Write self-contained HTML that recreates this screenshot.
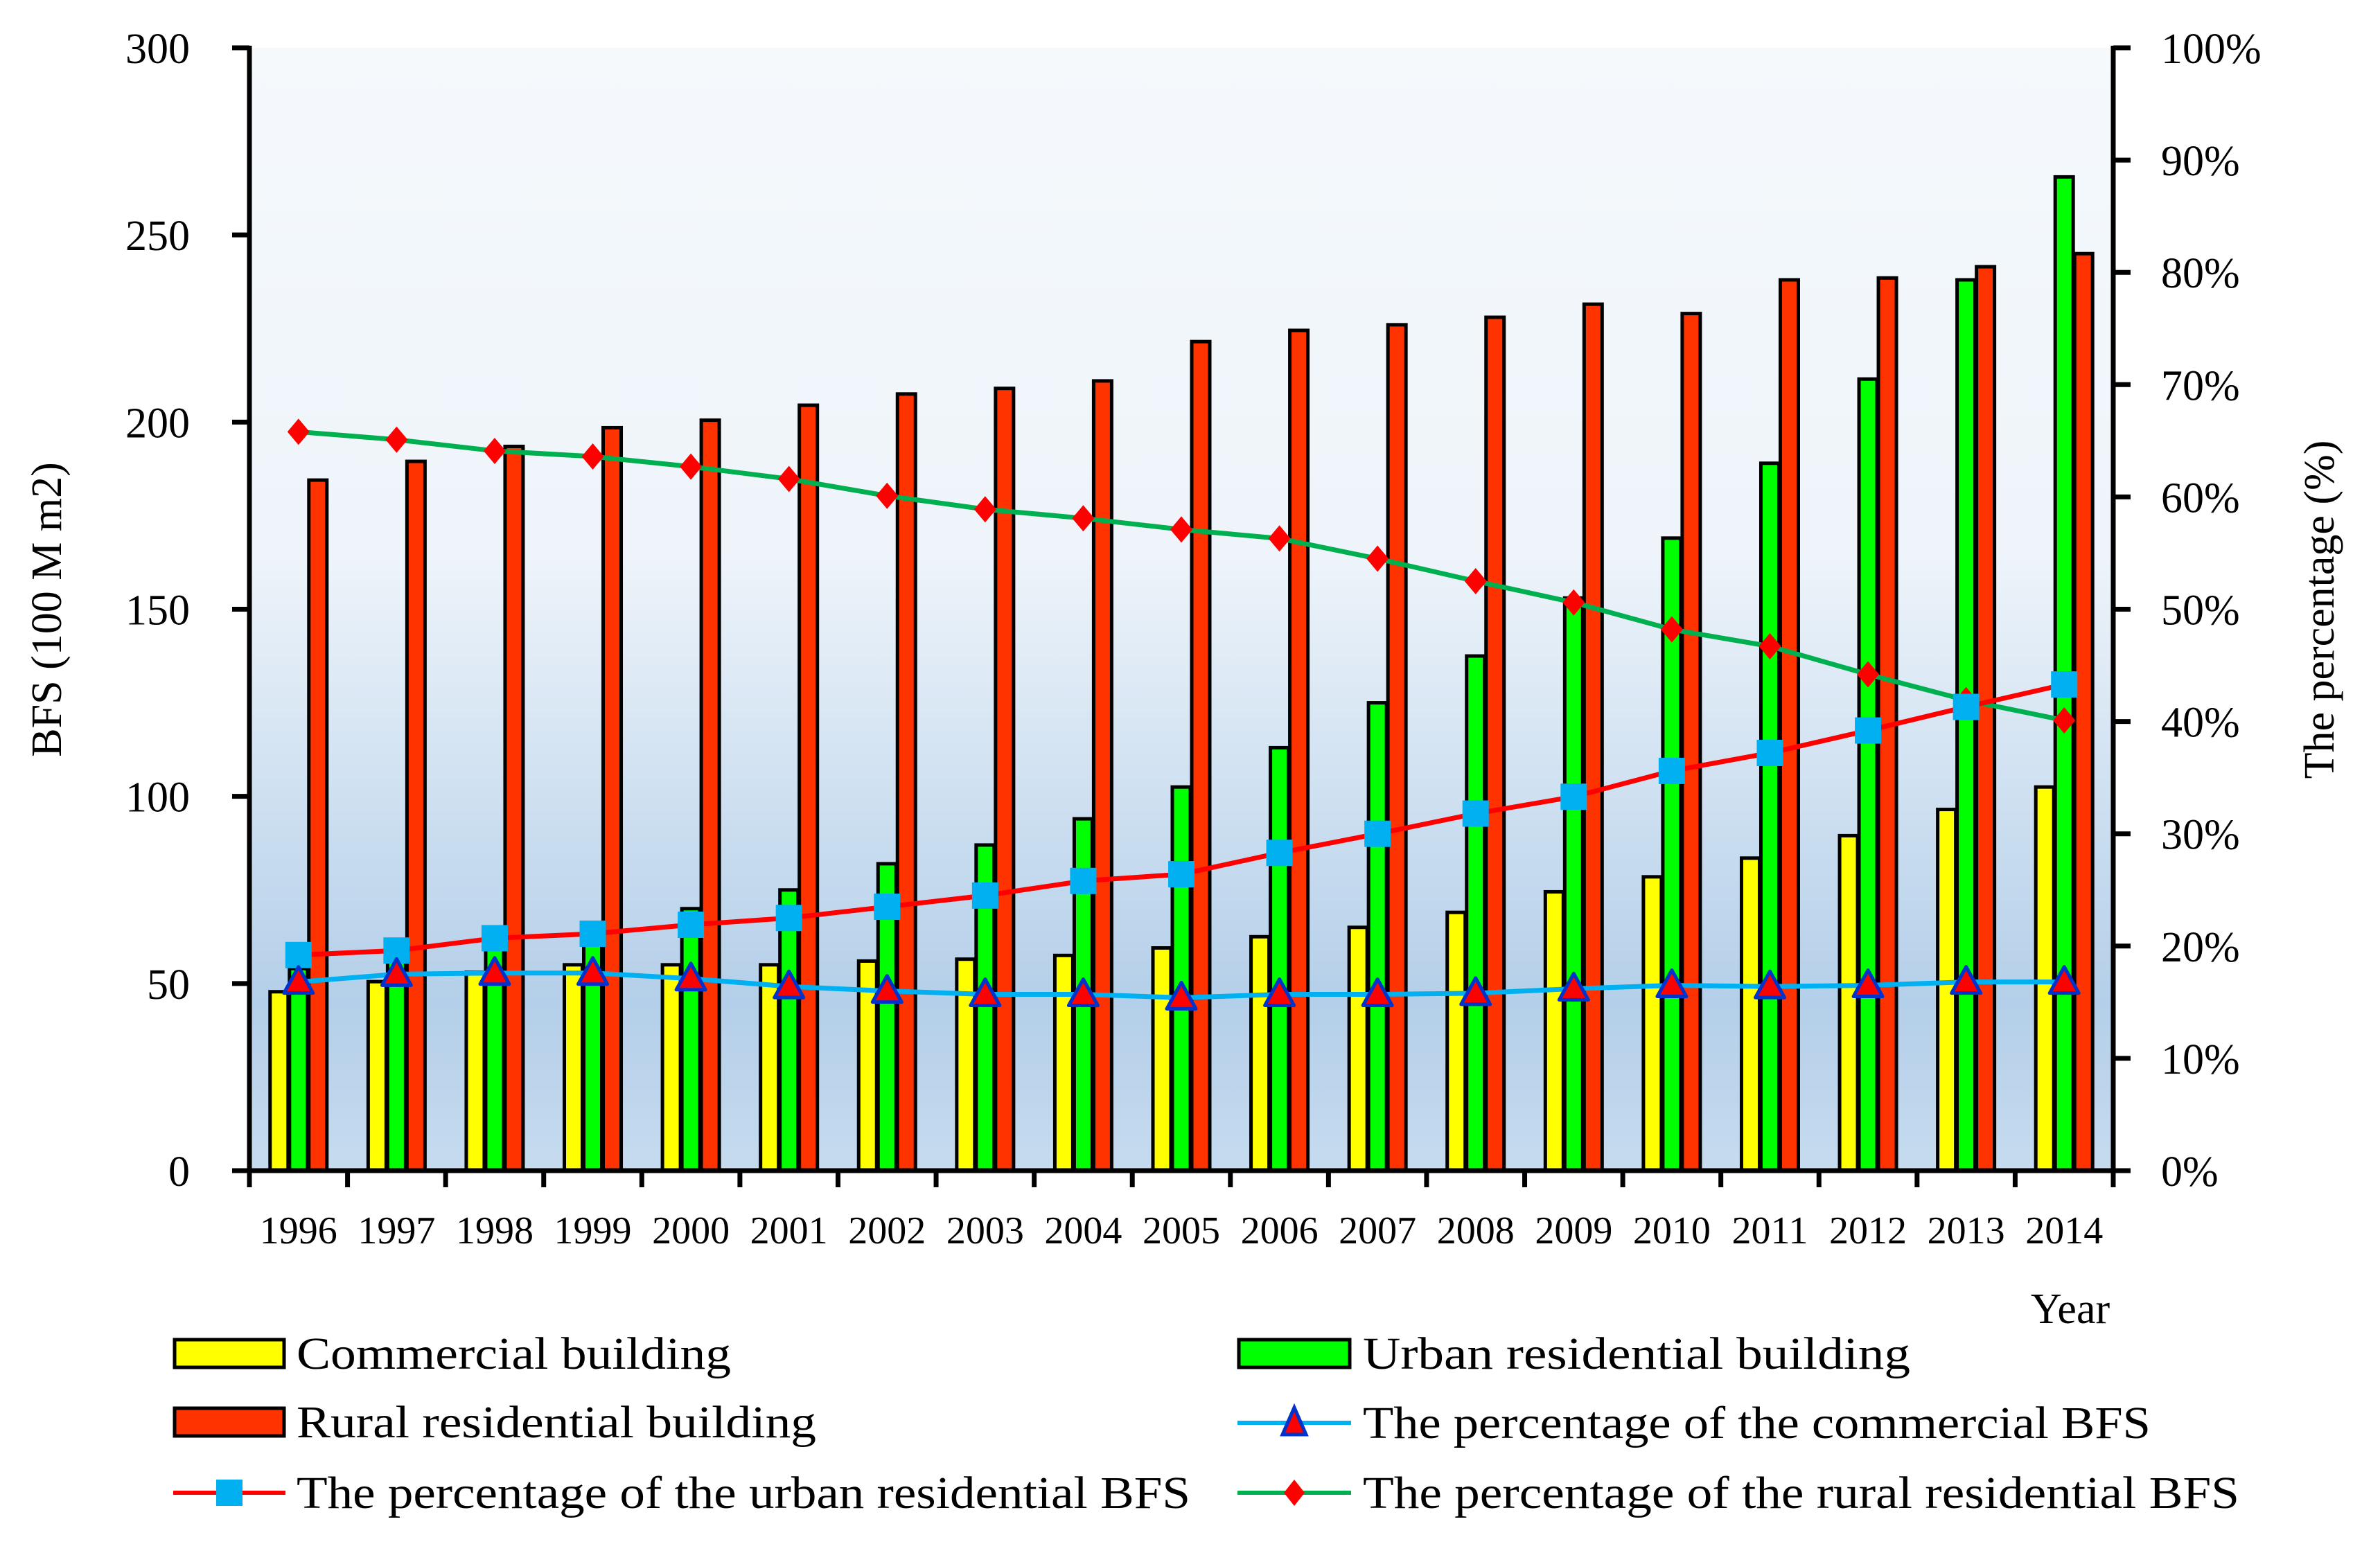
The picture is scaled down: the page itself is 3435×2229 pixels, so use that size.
<!DOCTYPE html>
<html><head><meta charset="utf-8"><style>
html,body{margin:0;padding:0;background:#fff;}
svg{display:block;font-family:"Liberation Serif",serif;}
</style></head><body>
<svg id="chart" width="3435" height="2229" viewBox="0 0 3435 2229" xmlns="http://www.w3.org/2000/svg">
<defs>
<linearGradient id="bg" x1="0" y1="0" x2="0" y2="1">
<stop offset="0" stop-color="#f5f9fc"/>
<stop offset="0.45" stop-color="#eef4fa"/>
<stop offset="0.85" stop-color="#b4cfe9"/>
<stop offset="1" stop-color="#c6dbef"/>
</linearGradient>
</defs>
<rect x="360" y="69" width="2690" height="1621" fill="url(#bg)"/>
<g id="bars"></g>
<g id="lines"></g>
<g id="axes"></g>
<text x="88" y="880" font-size="62" text-anchor="middle" transform="rotate(-90 88 880)">BFS (100 M m2)</text>
<text x="3368" y="880" font-size="62" text-anchor="middle" transform="rotate(-90 3368 880)">The percentage (%)</text>
<text x="2988" y="1910" font-size="62" text-anchor="middle">Year</text>
<g id="legend">
<g>
<rect x="252" y="1934" width="158" height="40" fill="#ffff00" stroke="#000" stroke-width="5"/>
<text x="428" y="1976" font-size="66" textLength="627" lengthAdjust="spacingAndGlyphs">Commercial building</text></g>
<g>
<rect x="252" y="2033" width="158" height="40" fill="#ff3300" stroke="#000" stroke-width="5"/>
<text x="428" y="2075" font-size="66" textLength="750" lengthAdjust="spacingAndGlyphs">Rural residential building</text></g>
<g>
<line x1="250" y1="2155" x2="412" y2="2155" stroke="#ff0000" stroke-width="6"/>
<rect x="312" y="2136" width="38" height="38" fill="#00b0f0"/>
<text x="428" y="2177" font-size="66" textLength="1290" lengthAdjust="spacingAndGlyphs">The percentage of the urban residential BFS</text></g>
<g>
<rect x="1788" y="1934" width="160" height="40" fill="#00ff00" stroke="#000" stroke-width="5"/>
<text x="1967" y="1976" font-size="66" textLength="790" lengthAdjust="spacingAndGlyphs">Urban residential building</text></g>
<g>
<line x1="1786" y1="2054" x2="1950" y2="2054" stroke="#00b0f0" stroke-width="6"/>
<polygon points="1868,2032 1885,2071 1851,2071" fill="#ff0000" stroke="#0033cc" stroke-width="5"/>
<text x="1967" y="2076" font-size="66" textLength="1137" lengthAdjust="spacingAndGlyphs">The percentage of the commercial BFS</text></g>
<g>
<line x1="1786" y1="2155" x2="1950" y2="2155" stroke="#00b050" stroke-width="6"/>
<polygon points="1868,2136 1883,2155 1868,2174 1853,2155" fill="#ff0000"/>
<text x="1967" y="2177" font-size="66" textLength="1265" lengthAdjust="spacingAndGlyphs">The percentage of the rural residential BFS</text></g>
</g>
</svg>
<script>
const years = ["1996","1997","1998","1999","2000","2001","2002","2003","2004","2005","2006","2007","2008","2009","2010","2011","2012","2013","2014"];
const commercial = [47.8,50.5,53,55,55,55,56,56.5,57.5,59.5,62.5,65,69,74.5,78.5,83.5,89.5,96.5,102.5];
const urban = [54,56.5,60.5,62,70,75,82,87,94,102.5,113,125,137.5,153,169,189,211.5,238,265.5];
const rural = [184.5,189.5,193.5,198.5,200.5,204.5,207.5,209,211,221.5,224.5,226,228,231.5,229,238,238.5,241.5,245];
const commercialPct = [16.8,17.5,17.6,17.6,17.1,16.4,16.0,15.7,15.7,15.4,15.7,15.7,15.8,16.2,16.5,16.4,16.5,16.8,16.8];
const urbanPct = [19.2,19.6,20.7,21.1,21.9,22.5,23.5,24.5,25.8,26.4,28.3,30.0,31.8,33.3,35.6,37.2,39.2,41.3,43.3];
const ruralPct = [65.8,65.1,64.1,63.6,62.7,61.6,60.1,58.9,58.1,57.1,56.3,54.5,52.5,50.6,48.2,46.7,44.2,41.9,40.1];
const leftTicks = [0,50,100,150,200,250,300];
const rightTicks = [0,10,20,30,40,50,60,70,80,90,100];

const NS = "http://www.w3.org/2000/svg";
const X0 = 360, X1 = 3050, Y0 = 1690, Y1 = 69;
const band = (X1 - X0) / years.length;
const xc = i => X0 + band * (i + 0.5);
const yL = v => Y0 - (v / 300) * (Y0 - Y1);
const yR = v => Y0 - (v / 100) * (Y0 - Y1);
function mk(tag, attrs, parent) {
  const e = document.createElementNS(NS, tag);
  for (const k in attrs) e.setAttribute(k, attrs[k]);
  parent.appendChild(e);
  return e;
}
const gb = document.getElementById('bars');
const series = [[commercial, '#ffff00', 'bar-commercial'], [urban, '#00ff00', 'bar-urban'], [rural, '#ff3300', 'bar-rural']];
const bw = 26, step = 28;
series.forEach((s, si) => {
  s[0].forEach((v, i) => {
    const cx = xc(i) + (si - 1) * step;
    const r = mk('rect', {x: cx - bw / 2, y: yL(v), width: bw, height: Y0 - yL(v), fill: s[1], stroke: '#000', 'stroke-width': 5}, gb);
    
    
  });
});
const gl = document.getElementById('lines');
function line(vals, color, name) {
  const p = mk('polyline', {points: vals.map((v, i) => xc(i) + ',' + yR(v)).join(' '), fill: 'none', stroke: color, 'stroke-width': 7, 'stroke-linejoin': 'round'}, gl);
  
  
}
line(ruralPct, '#00b050', 'line-rural-pct');
line(urbanPct, '#ff0000', 'line-urban-pct');
line(commercialPct, '#00b0f0', 'line-commercial-pct');
ruralPct.forEach((v, i) => {
  const x = xc(i), y = yR(v);
  const m = mk('polygon', {points: `${x},${y-19} ${x+16},${y} ${x},${y+19} ${x-16},${y}`, fill: '#ff0000'}, gl);
  
  
});
urbanPct.forEach((v, i) => {
  const x = xc(i), y = yR(v);
  const m = mk('rect', {x: x - 19, y: y - 19, width: 38, height: 38, fill: '#00b0f0'}, gl);
  
  
});
commercialPct.forEach((v, i) => {
  const x = xc(i), y = yR(v);
  const m = mk('polygon', {points: `${x},${y-22} ${x+21},${y+16} ${x-21},${y+16}`, fill: '#ff0000', stroke: '#0033cc', 'stroke-width': 5, 'stroke-linejoin': 'round'}, gl);
  
  
});
const ga = document.getElementById('axes');
const al = mk('line', {x1: X0, y1: Y1 - 3, x2: X0, y2: Y0 + 3, stroke: '#000', 'stroke-width': 7}, ga);


const ar = mk('line', {x1: X1, y1: Y1 - 3, x2: X1, y2: Y0 + 3, stroke: '#000', 'stroke-width': 7}, ga);


const ax = mk('line', {x1: X0 - 25, y1: Y0, x2: X1 + 25, y2: Y0, stroke: '#000', 'stroke-width': 7}, ga);


leftTicks.forEach(v => {
  mk('line', {x1: X0 - 25, y1: yL(v), x2: X0, y2: yL(v), stroke: '#000', 'stroke-width': 7}, ga);
  const t = mk('text', {x: 274, y: yL(v) + 22, 'font-size': 62, 'text-anchor': 'end'}, ga);
  t.textContent = v;
  
  
});
rightTicks.forEach(v => {
  mk('line', {x1: X1, y1: yR(v), x2: X1 + 25, y2: yR(v), stroke: '#000', 'stroke-width': 7}, ga);
  const t = mk('text', {x: 3119, y: yR(v) + 22, 'font-size': 62}, ga);
  t.textContent = v + '%';
  
  
});
for (let i = 0; i <= years.length; i++) {
  const x = X0 + band * i;
  mk('line', {x1: x, y1: Y0, x2: x, y2: Y0 + 24, stroke: '#000', 'stroke-width': 7}, ga);
}
years.forEach((yv, i) => {
  const t = mk('text', {x: xc(i), y: 1795, 'font-size': 56, 'text-anchor': 'middle'}, ga);
  t.textContent = yv;
  
  
});
</script>
</body></html>
